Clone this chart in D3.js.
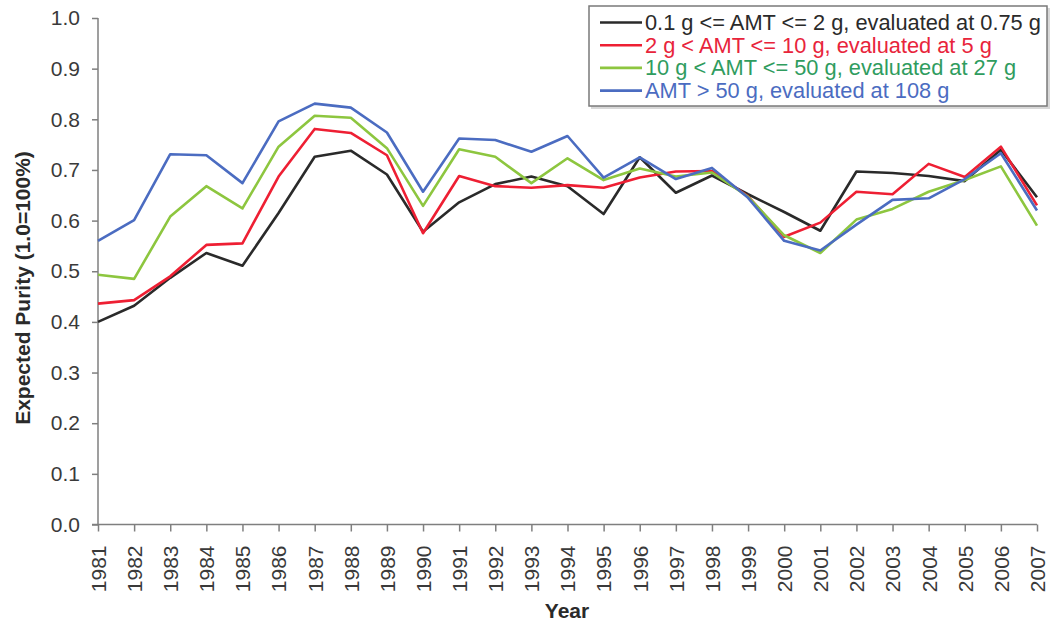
<!DOCTYPE html>
<html>
<head>
<meta charset="utf-8">
<script src="https://cdn.jsdelivr.net/npm/d3@7"></script>
<style>
  body { margin: 0; background: #fff; }
  svg { display: block; font-family: "Liberation Sans", Arial, sans-serif; }
  .axis path, .axis line { stroke: #7f7f7f; stroke-width: 1.5; }
  .axis text { fill: #3a3a3a; font-size: 21px; }
</style>
</head>
<body>
<div id="chart"></div>
<script>
const years = d3.range(1981, 2008);
const yTicks = [0, 0.1, 0.2, 0.3, 0.4, 0.5, 0.6, 0.7, 0.8, 0.9, 1.0];

const seriesNames = [
    '0.1 g <= AMT <= 2 g, evaluated at 0.75 g',
    '2 g < AMT <= 10 g, evaluated at 5 g',
    '10 g < AMT <= 50 g, evaluated at 27 g',
    'AMT > 50 g, evaluated at 108 g'
];

const smallValues = [0.400, 0.432, 0.487, 0.536, 0.511, 0.615, 0.726, 0.738, 0.691, 0.578,
    0.636, 0.672, 0.687, 0.668, 0.613, 0.725, 0.655, 0.689, 0.652, 0.617,
    0.580, 0.697, 0.694, 0.688, 0.678, 0.740, 0.646];
const mediumValues = [0.436, 0.443, 0.490, 0.552, 0.555, 0.687, 0.781, 0.773, 0.729, 0.575,
    0.688, 0.668, 0.665, 0.670, 0.665, 0.685, 0.697, 0.698, 0.648, 0.568,
    0.596, 0.657, 0.652, 0.712, 0.686, 0.746, 0.630];
const largeValues = [0.493, 0.485, 0.608, 0.668, 0.624, 0.746, 0.807, 0.803, 0.743, 0.629,
    0.741, 0.726, 0.674, 0.723, 0.680, 0.703, 0.687, 0.695, 0.647, 0.571,
    0.536, 0.602, 0.623, 0.657, 0.680, 0.707, 0.590];
const hugeValues = [0.560, 0.601, 0.731, 0.729, 0.674, 0.796, 0.831, 0.823, 0.774, 0.657,
    0.762, 0.759, 0.736, 0.767, 0.685, 0.725, 0.682, 0.704, 0.645, 0.560,
    0.541, 0.592, 0.641, 0.644, 0.682, 0.733, 0.620];

const lineColors = ['#2a2a2a', '#ee1f33', '#8dc63f', '#4b6cc1'];
const textColors = ['#2a2a2a', '#e8243b', '#2f9c5e', '#4b6cc1'];

const width = 1051, height = 626;
const margin = { left: 98, right: 14, top: 18, bottom: 101.5 };

const svg = d3.select('#chart').append('svg')
    .attr('width', width)
    .attr('height', height);

const xScale = d3.scaleLinear()
    .domain([1981, 2007])
    .range([margin.left, width - margin.right]);

const yScale = d3.scaleLinear()
    .domain([0, 1])
    .range([height - margin.bottom, margin.top]);

const series = [smallValues, mediumValues, largeValues, hugeValues].map((vals, i) => ({
    name: seriesNames[i],
    values: vals.map((v, j) => ({ year: years[j], v: v })),
    i: i
}));

// y axis
const yAxis = d3.axisLeft(yScale)
    .tickValues(yTicks)
    .tickSize(6)
    .tickPadding(12)
    .tickFormat(d3.format('.1f'));

svg.append('g')
    .attr('class', 'axis y-axis')
    .attr('transform', `translate(${margin.left},0)`)
    .call(yAxis)
    .call(g => g.select('.domain').attr('d', `M0,${yScale(1)}V${yScale(0)}`));

// x axis
const xAxis = d3.axisBottom(xScale)
    .tickValues(years)
    .tickSize(7)
    .tickFormat(d3.format('d'));

svg.append('g')
    .attr('class', 'axis x-axis')
    .attr('transform', `translate(0,${yScale(0)})`)
    .call(xAxis)
    .call(g => g.select('.domain').attr('d', `M${margin.left - 6},0H${xScale(2007)}`))
    .selectAll('text')
    .attr('transform', 'rotate(-90)')
    .attr('x', -21)
    .attr('y', 0)
    .attr('dy', '0.35em')
    .attr('text-anchor', 'end');

// lines
const line = d3.line()
    .x(d => xScale(d.year))
    .y(d => yScale(d.v));

svg.append('g')
    .selectAll('path')
    .data(series)
    .enter()
    .append('path')
    .attr('d', d => line(d.values))
    .attr('fill', 'none')
    .attr('stroke', d => lineColors[d.i])
    .attr('stroke-width', 2.6)
    .attr('stroke-linejoin', 'round');

// axis titles
svg.append('text')
    .attr('transform', 'rotate(-90)')
    .attr('x', -288)
    .attr('y', 30)
    .attr('text-anchor', 'middle')
    .attr('font-weight', 'bold')
    .attr('font-size', 21)
    .attr('fill', '#2a2a2a')
    .text('Expected Purity (1.0=100%)');

svg.append('text')
    .attr('x', 567)
    .attr('y', 618)
    .attr('text-anchor', 'middle')
    .attr('font-weight', 'bold')
    .attr('font-size', 21)
    .attr('fill', '#2a2a2a')
    .text('Year');

// legend
const legend = svg.append('g').attr('transform', 'translate(589,6)');

legend.append('rect')
    .attr('x', 2).attr('y', 2)
    .attr('width', 459).attr('height', 101)
    .attr('fill', '#d8d8d8');

legend.append('rect')
    .attr('width', 458).attr('height', 100)
    .attr('fill', '#fff')
    .attr('stroke', '#7a7a7a')
    .attr('stroke-width', 1.5);

const rows = legend.selectAll('.row')
    .data(series)
    .enter()
    .append('g')
    .attr('class', 'row')
    .attr('transform', d => `translate(0,${16.5 + d.i * 22.7})`);

rows.append('line')
    .attr('x1', 11).attr('x2', 53)
    .attr('stroke', d => lineColors[d.i])
    .attr('stroke-width', 2.6);

rows.append('text')
    .attr('x', 56)
    .attr('y', 7.5)
    .attr('font-size', 21.8)
    .attr('fill', d => textColors[d.i])
    .text(d => d.name);
</script>
</body>
</html>
